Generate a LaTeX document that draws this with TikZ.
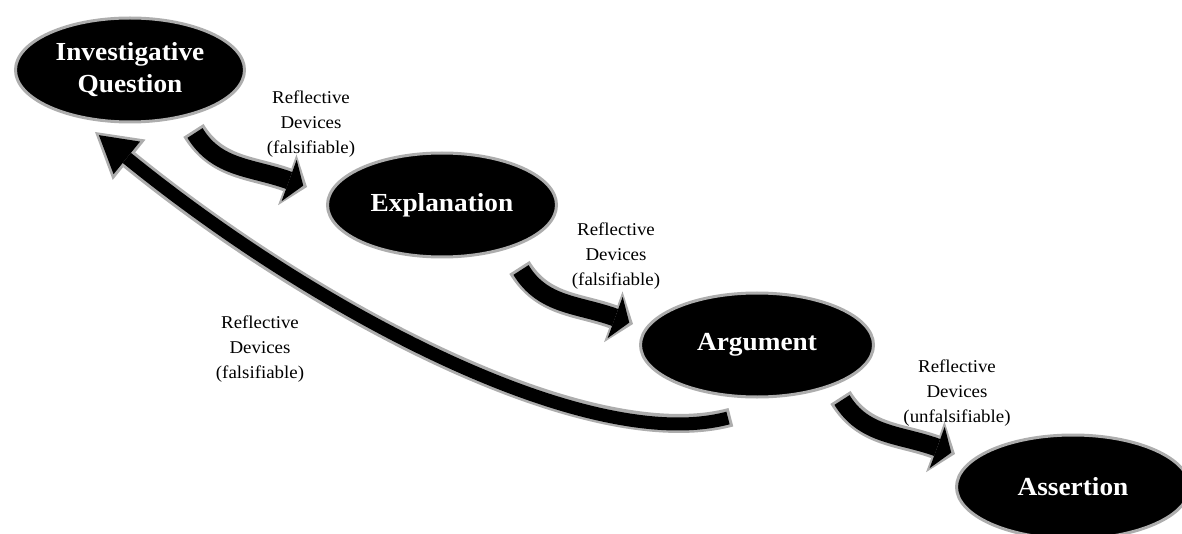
\documentclass[tikz,border=0pt]{standalone}
\usepackage{fontspec}
\setmainfont[FakeStretch=1.05]{Liberation Serif}
\usetikzlibrary{arrows.meta,shapes.geometric}

\definecolor{rim}{gray}{0.68}

\tikzset{
  stage/.style={ellipse, fill=black, draw=rim, line width=3pt, text=white,
    font=\bfseries\fontsize{26}{32}\selectfont, align=center,
    minimum height=104pt, inner sep=0pt},
  note/.style={font=\fontsize{18}{25}\selectfont, align=center, inner sep=0pt},
  % short curved step arrows: grey rim underneath, black core on top
  steprim/.style={draw=rim, line width=24pt, shorten <=-3pt,
    -{Triangle[length=21pt,width=54pt,line width=0pt]}},
  stepcore/.style={draw=black, line width=18pt, shorten >=4pt,
    -{Triangle[length=15pt,width=44pt,line width=0pt]}},
  % long return arrow
  backrim/.style={draw=rim, line width=19pt, shorten <=-3pt,
    -{Triangle[length=44pt,width=52pt,line width=0pt]}},
  backcore/.style={draw=black, line width=13pt, shorten >=5pt,
    -{Triangle[length=36pt,width=42pt,line width=0pt]}},
}

\begin{document}
\begin{tikzpicture}[x=1pt,y=-1pt]
\useasboundingbox (0,0) rectangle (1182,534);

% stages
\node[stage, minimum width=229pt] (iq)  at (130,70)  {Investigative\\Question};
\node[stage, minimum width=229pt] (ex)  at (442,205) {Explanation};
\node[stage, minimum width=233pt] (arg) at (757,345) {Argument};
\node[stage, minimum width=233pt] (as)  at (1073,487) {Assertion};

% labels
\node[note] (l1) at (311,124) {Reflective\\Devices\\(falsifiable)};
\node[note] (l2) at (616,256) {Reflective\\Devices\\(falsifiable)};
\node[note] (l3) at (260,349) {Reflective\\Devices\\(falsifiable)};
\node[note] (l4) at (957,393) {Reflective\\Devices\\(unfalsifiable)};

% arrow end points
\coordinate (a1s) at (195,133); \coordinate (a1e) at (307,187);
\coordinate (a2s) at (521,270); \coordinate (a2e) at (633,324);
\coordinate (a3s) at (842,400); \coordinate (a3e) at (955,454);
\coordinate (bks) at (728,418); \coordinate (bke) at (95,132);

% step arrows
\foreach \s/\e in {a1s/a1e, a2s/a2e, a3s/a3e}{
  \draw[steprim]  (\s) .. controls +(22,36) and +(-55,-20) .. (\e);
  \draw[stepcore] (\s) .. controls +(22,36) and +(-55,-20) .. (\e);
}

% return arrow
\draw[backrim]  (bks) .. controls (590,455) and (320,315) .. (bke);
\draw[backcore] (bks) .. controls (590,455) and (320,315) .. (bke);
\end{tikzpicture}
\end{document}
